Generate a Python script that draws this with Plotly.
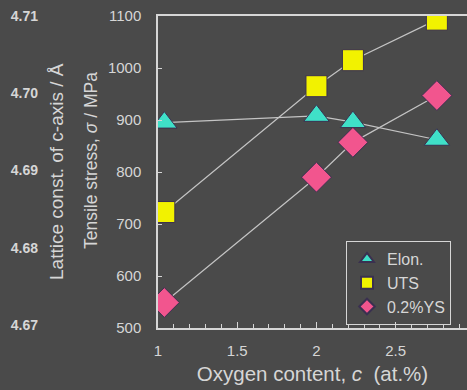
import plotly.graph_objects as go

oxygen = [1.04, 2.0, 2.23, 2.76]
elon = [895, 908, 896, 862]
uts = [723, 965, 1015, 1093]
ys = [549, 790, 857, 947]
stress_ticks = [500, 600, 700, 800, 900, 1000, 1100]
lattice_ticks = [4.67, 4.68, 4.69, 4.70, 4.71]
lattice_labels = ["4.67", "4.68", "4.69", "4.70", "4.71"]

BG = "#4a4a4a"
FG = "#d6d6d6"
LINE = "#c4c4c4"
FONT = "Liberation Sans, Arial, sans-serif"

fig = go.Figure()
series = [
    ("Elon.", elon, "triangle-up", "#3fe0c8", 22),
    ("UTS", uts, "square", "#f2f200", 21),
    ("0.2%YS", ys, "diamond", "#f2558e", 23),
]
for name, vals, sym, col, sz in series:
    fig.add_trace(go.Scatter(
        x=oxygen, y=vals, mode="lines", showlegend=False, hoverinfo="skip",
        line=dict(color=LINE, width=1.2),
    ))
for name, vals, sym, col, sz in series:
    fig.add_trace(go.Scatter(
        x=oxygen, y=vals, name=name, mode="markers",
        marker=dict(symbol=sym, color=col, size=sz, line=dict(color="#3a3050", width=1)),
    ))

# invisible trace for lattice axis
fig.add_trace(go.Scatter(x=[None], y=[None], yaxis="y2", showlegend=False))

W, H = 467, 390
T, B = 16, 62
PH = H - T - B

fig.update_layout(
    width=W, height=H,
    paper_bgcolor=BG, plot_bgcolor=BG,
    margin=dict(l=0, r=0, t=T, b=B, autoexpand=False),
    font=dict(family=FONT, color=FG, size=15),
    showlegend=True,
    legend=dict(x=346 / W, y=1 - (241 - T) / PH, xanchor="left", yanchor="top",
                bgcolor="rgba(0,0,0,0)", bordercolor=FG, borderwidth=1,
                font=dict(size=16, color=FG), itemsizing="constant",
                tracegroupgap=0, itemwidth=30),
    xaxis=dict(
        domain=[158 / W, 1], range=[1, 2.95], automargin=False,
        tickvals=[1, 1.5, 2, 2.5], ticktext=["1", "1.5", "2", "2.5"],
        ticks="inside", ticklen=6, tickcolor=FG, tickwidth=1,
        minor=dict(dtick=0.1, tick0=1, ticks="inside", ticklen=4, tickcolor=FG),
        showline=True, linecolor=FG, linewidth=1.5, mirror=True,
        showgrid=False, zeroline=False,
        tickfont=dict(size=15, color=FG), ticklabelstandoff=8,
        title=dict(text="Oxygen content, <i>c</i>&nbsp;&nbsp;(at.%)", font=dict(size=20.5, color=FG), standoff=9),
    ),
    yaxis=dict(
        range=[500, 1100], tickvals=stress_ticks, automargin=False,
        ticks="inside", ticklen=4, tickcolor=FG,
        showline=True, linecolor=FG, linewidth=1.5,
        showgrid=False, zeroline=False,
        tickfont=dict(size=15, color=FG), ticklabelstandoff=12,
    ),
    yaxis2=dict(
        overlaying="y", anchor="free", position=38 / W, side="left", automargin=False,
        range=[4.6696, 4.71], tickvals=lattice_ticks, ticktext=lattice_labels,
        showline=False, showgrid=False, zeroline=False, ticks="",
        tickfont=dict(size=14, color=FG, family="Liberation Sans, Arial", weight="bold"),
    ),
    annotations=[
        dict(text="Tensile stress, <i>σ</i> / MPa", textangle=-90,
             x=91 / W, y=1 - (161 - T) / PH,
             xref="paper", yref="paper", showarrow=False, xanchor="center", yanchor="middle",
             font=dict(size=17.5, color=FG)),
        dict(text="Lattice const. of c-axis / Å", textangle=-90,
             x=56 / W, y=1 - (172 - T) / PH,
             xref="paper", yref="paper", showarrow=False, xanchor="center", yanchor="middle",
             font=dict(size=19, color=FG)),
    ],
)

fig.write_html(
    "out.html",
    config={"displayModeBar": False},
    post_script="document.body.style.margin='0';document.body.style.background='%s';" % BG,
)
